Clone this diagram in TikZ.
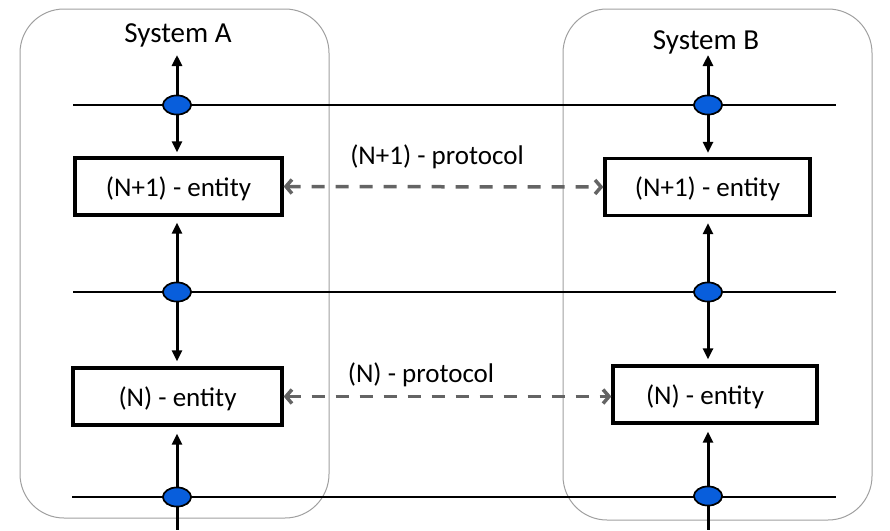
\documentclass[tikz,border=0pt]{standalone}
\usepackage{fontspec}
\setmainfont{Carlito}
\usetikzlibrary{arrows.meta,shapes.geometric}
\definecolor{sysgray}{RGB}{160,160,160}
\definecolor{dashgray}{RGB}{100,100,100}
\definecolor{portblue}{RGB}{8,94,220}
\tikzset{
  sysbox/.style={draw=sysgray,line width=1pt,rounded corners=44pt},
  entity/.style={draw=black,line width=3.3pt,rectangle,minimum height=57pt,inner sep=0pt,text depth=0pt,font=\fontsize{27}{30}\selectfont},
  port/.style={ellipse,draw=black,line width=1.6pt,fill=portblue,minimum width=28pt,minimum height=19pt,inner sep=0pt},
  layer/.style={draw=black,line width=1.7pt},
  svc/.style={draw=black,line width=3pt,-{Triangle[length=11pt,width=10pt]}},
  svcplain/.style={draw=black,line width=3pt},
  proto/.style={draw=dashgray,line width=3.5pt,dash pattern=on 13pt off 11pt,{Straight Barb[length=6pt,width=14pt]}-{Straight Barb[length=6pt,width=14pt]}},
  lbl/.style={font=\fontsize{27}{30}\selectfont,inner sep=0pt},
  syslbl/.style={font=\fontsize{29}{32}\selectfont,inner sep=0pt}
}
\begin{document}
\begin{tikzpicture}[x=1pt,y=-1pt]
\useasboundingbox (0,0) rectangle (890,530);
% systems
\draw[sysbox] (20,9) rectangle (329,518);
\draw[sysbox] (563,9) rectangle (872,520);
\node[syslbl] (sA) at (178,35) {System A};
\node[syslbl] (sB) at (706,42) {System B};
% layer lines
\coordinate (l1) at (73,105); \coordinate (r1) at (836,105);
\coordinate (l2) at (73,292); \coordinate (r2) at (836,292);
\coordinate (l3) at (72,497); \coordinate (r3) at (836,497);
\draw[layer] (l1) -- (r1);
\draw[layer] (l2) -- (r2);
\draw[layer] (l3) -- (r3);
% entities
\node[entity,minimum width=207pt] (a1) at (178.5,186.5) {(N+1) - entity};
\node[entity,minimum width=205pt] (b1) at (707.5,187) {(N+1) - entity};
\node[entity,minimum width=209pt] (a2) at (177.5,396.5) {(N) - entity};
\node[entity,minimum width=204pt] (b2) at (715,394.5) {\hspace*{-20pt}(N) - entity};
% ports
\node[port] (pa1) at (177,105) {};
\node[port] (pa2) at (177,292) {};
\node[port] (pa3) at (177,497) {};
\node[port] (pb1) at (708,105) {};
\node[port] (pb2) at (708,292) {};
\node[port] (pb3) at (708,496) {};
% free ends
\coordinate (ta) at (177,55);
\coordinate (tb) at (708,55);
\coordinate (ba) at (177,530);
\coordinate (bb) at (708,530);
% vertical arrows A
\draw[svc] (pa1) -- (ta);
\draw[svc,shorten >=4pt] (pa1) -- (a1.north -| pa1);
\draw[svc,shorten >=6pt] (pa2) -- (a1.south -| pa2);
\draw[svc,shorten >=5pt] (pa2) -- (a2.north -| pa2);
\draw[svc,shorten >=7pt] (pa3) -- (a2.south -| pa3);
\draw[svcplain] (pa3) -- (ba);
% vertical arrows B
\draw[svc] (pb1) -- (tb);
\draw[svc,shorten >=4pt] (pb1) -- (b1.north -| pb1);
\draw[svc,shorten >=6pt] (pb2) -- (b1.south -| pb2);
\draw[svc,shorten >=5pt] (pb2) -- (b2.north -| pb2);
\draw[svc,shorten >=7pt] (pb3) -- (b2.south -| pb3);
\draw[svcplain] (pb3) -- (bb);
% redraw ports on top
\node[port] at (pa1) {};
\node[port] at (pa2) {};
\node[port] at (pa3) {};
\node[port] at (pb1) {};
\node[port] at (pb2) {};
\node[port] at (pb3) {};
% protocols
\draw[proto] (a1.east) -- (b1.west);
\draw[proto] (a2.east) -- (a2.east -| b2.west);
\node[lbl] (p1) at (437,157) {(N+1) - protocol};
\node[lbl] (p2) at (421,375) {(N) - protocol};
\end{tikzpicture}
\end{document}
